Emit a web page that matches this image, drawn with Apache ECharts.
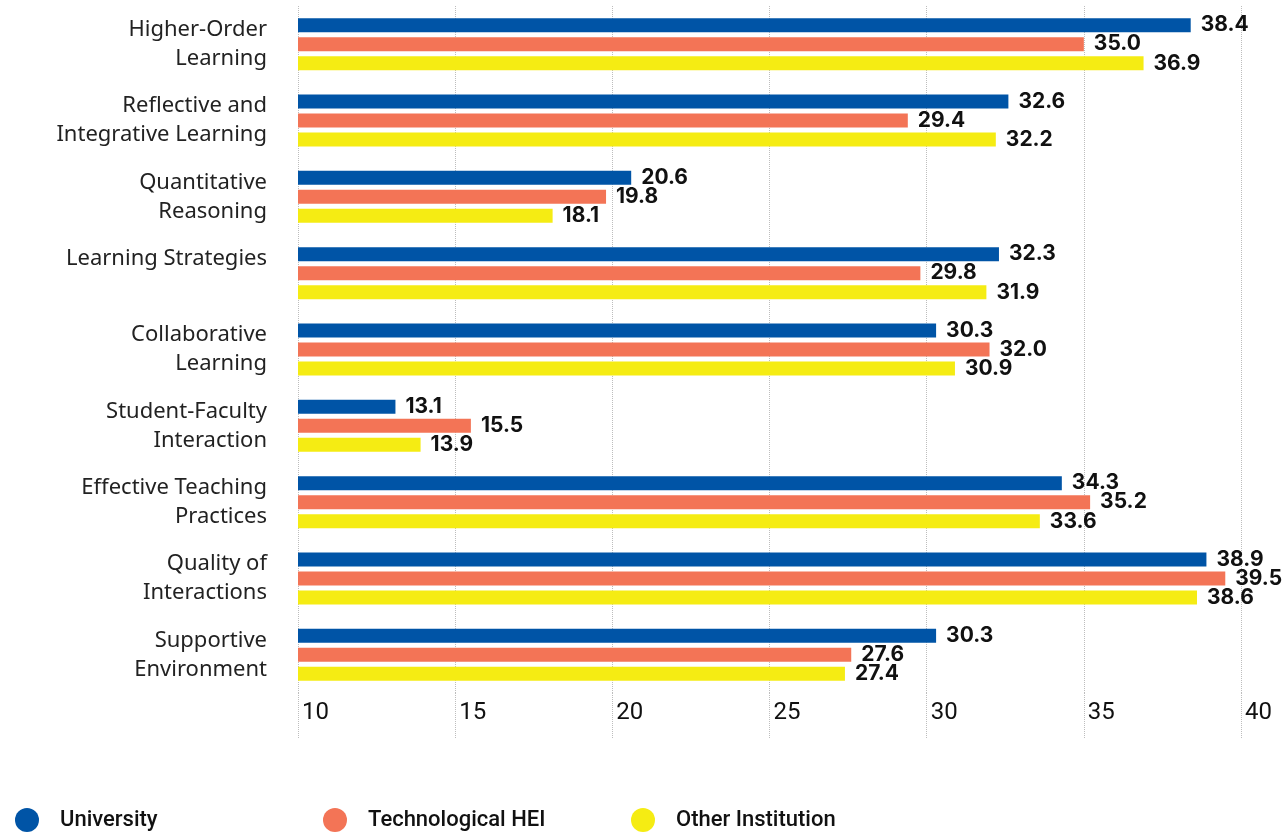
<!DOCTYPE html>
<html>
<head>
<meta charset="utf-8">
<script src="https://cdn.jsdelivr.net/npm/echarts@6/dist/echarts.min.js"></script>
<style>
  html, body { margin: 0; padding: 0; background: #fff; }
  #bar-chart { width: 1284px; height: 836px; }
</style>
</head>
<body>
<div id="bar-chart"></div>
<script>
// categories, top to bottom
const categories = [
  'Higher-Order\nLearning',
  'Reflective and\nIntegrative Learning',
  'Quantitative\nReasoning',
  'Learning Strategies\n ',
  'Collaborative\nLearning',
  'Student-Faculty\nInteraction',
  'Effective Teaching\nPractices',
  'Quality of\nInteractions',
  'Supportive\nEnvironment'
];
const university = [38.4, 32.6, 20.6, 32.3, 30.3, 13.1, 34.3, 38.9, 30.3];
const technological = [35.0, 29.4, 19.8, 29.8, 32.0, 15.5, 35.2, 39.5, 27.6];
const otherInst = [36.9, 32.2, 18.1, 31.9, 30.9, 13.9, 33.6, 38.6, 27.4];

const seriesNames = ['University', 'Technological HEI', 'Other Institution'];
const colors = ['#0054a6', '#f37456', '#f5ec13'];
const legendLeft = [10, 318, 626];

const valueLabel = {
  show: true,
  position: 'right',
  distance: 10,
  color: '#111',
  fontFamily: 'Inter',
  fontWeight: 'bold',
  fontSize: 21,
  formatter: (p) => p.value.toFixed(1)
};

const mk = (name, data, i) => ({
  name: name,
  type: 'bar',
  data: data,
  barWidth: 14,
  barGap: '36%',
  itemStyle: { color: colors[i] },
  label: valueLabel
});

// one legend per item so each sits at its own fixed spot
const legends = seriesNames.map((n, i) => ({
  left: legendLeft[i],
  top: 803,
  icon: 'circle',
  itemWidth: 24,
  itemHeight: 24,
  textStyle: {
    fontFamily: 'Roboto',
    fontWeight: 500,
    fontSize: 22,
    color: '#111',
    padding: [0, 0, 0, 16]
  },
  data: [n]
}));

const myChart = echarts.init(document.getElementById('bar-chart'), null, { renderer: 'canvas' });
const option = {
  animation: false,
  grid: { left: 298, right: 43, top: 6, bottom: 143 },
  legend: legends,
  xAxis: {
    type: 'value',
    min: 10,
    max: 40,
    interval: 5,
    axisLine: { show: false },
    axisTick: {
      show: true,
      length: 45,
      lineStyle: { color: '#bdbdbd', type: 'dotted' }
    },
    splitLine: { lineStyle: { color: '#bdbdbd', type: 'dotted' } },
    axisLabel: {
      margin: 8,
      align: 'left',
      padding: [0, 0, 0, 4],
      fontFamily: 'Roboto',
      fontSize: 24,
      color: '#111'
    }
  },
  yAxis: {
    type: 'category',
    inverse: true,
    data: categories,
    axisLine: { show: false },
    axisTick: { show: false },
    axisLabel: {
      margin: 31,
      fontFamily: 'Noto Sans',
      fontSize: 22,
      lineHeight: 29,
      color: '#222'
    }
  },
  series: [
    mk(seriesNames[0], university, 0),
    mk(seriesNames[1], technological, 1),
    mk(seriesNames[2], otherInst, 2)
  ]
};
myChart.setOption(option);
</script>
</body>
</html>
